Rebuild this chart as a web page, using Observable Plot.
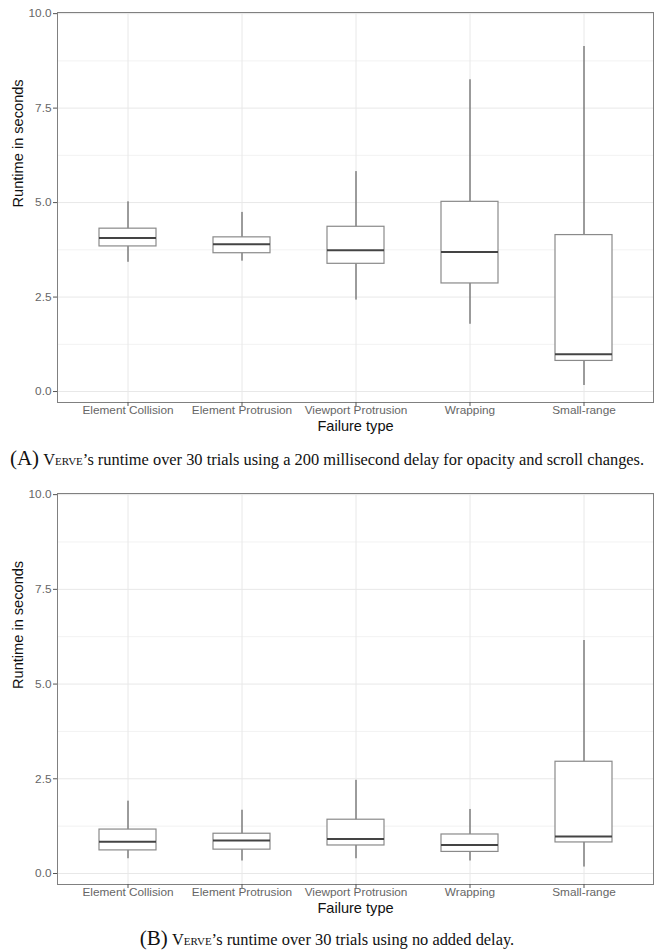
<!DOCTYPE html>
<html>
<head>
<meta charset="utf-8">
<script src="https://cdn.jsdelivr.net/npm/d3@7"></script>
<script src="https://cdn.jsdelivr.net/npm/@observablehq/plot@0.6"></script>
<style>
  html, body { margin: 0; padding: 0; background: #fff; }
  #root { width: 654px; }
  .cap { height: 40px; line-height: 36px; text-align: center; font-family: "Liberation Serif", "Times New Roman", serif; font-size: 16.4px; color: #111; white-space: nowrap; }
  .cap .lab { font-size: 21px; }
  .cap .sc { font-variant: small-caps; }
  svg { display: block; }
</style>
</head>
<body>
<div id="root"></div>
<script>
const categories = ["Element Collision", "Element Protrusion", "Viewport Protrusion", "Wrapping", "Small-range"];
const yTicks = [0, 2.5, 5, 7.5, 10];
const yMinor = [1.25, 3.75, 6.25, 8.75];

// Panel A: 200 ms delay
const lowA  = [3.42, 3.45, 2.42, 1.78, 0.16];
const q1A   = [3.84, 3.66, 3.38, 2.86, 0.81];
const medA  = [4.06, 3.90, 3.74, 3.69, 0.99];
const q3A   = [4.31, 4.08, 4.36, 5.02, 4.14];
const highA = [5.02, 4.74, 5.82, 8.25, 9.13];

// Panel B: no added delay
const lowB  = [0.39, 0.33, 0.39, 0.33, 0.17];
const q1B   = [0.61, 0.63, 0.74, 0.57, 0.82];
const medB  = [0.84, 0.87, 0.91, 0.75, 0.98];
const q3B   = [1.16, 1.05, 1.42, 1.03, 2.95];
const highB = [1.91, 1.67, 2.46, 1.69, 6.15];

function table(low, q1, med, q3, high) {
  return categories.map((c, i) => ({cat: c, low: low[i], q1: q1[i], med: med[i], q3: q3[i], high: high[i]}));
}

function panel(rows, marginTop, marginBottom) {
  return Plot.plot({
    width: 654,
    height: 440,
    marginLeft: 57,
    marginRight: 1,
    marginTop,
    marginBottom,
    style: {fontFamily: "'Liberation Sans', Arial, sans-serif", background: "#fff", overflow: "visible"},
    x: {type: "band", domain: categories, paddingInner: 0.5, paddingOuter: 0.35, axis: null},
    y: {domain: [-0.29, 10.03], axis: null},
    marks: [
      Plot.ruleY(yMinor, {stroke: "#f2f2f2", strokeWidth: 1}),
      Plot.ruleY(yTicks, {stroke: "#e8e8e8", strokeWidth: 1}),
      Plot.ruleX(categories, {stroke: "#e8e8e8", strokeWidth: 1}),
      Plot.ruleX(rows, {x: "cat", y1: "low", y2: "high", stroke: "#444", strokeWidth: 1}),
      Plot.barY(rows, {x: "cat", y1: "q1", y2: "q3", fill: "#fff", stroke: "#8a8a8a", strokeWidth: 1.2}),
      Plot.tickY(rows, {x: "cat", y: "med", stroke: "#444", strokeWidth: 2}),
      Plot.frame({stroke: "#808080", strokeWidth: 1}),
      Plot.axisY({ticks: yTicks, tickFormat: d => d.toFixed(1), tickSize: 4, tickPadding: 2, stroke: "#555", fill: "#666", fontSize: 11.8, label: null}),
      Plot.axisX({tickSize: 4, tickPadding: -0.5, stroke: "#555", fill: "#666", fontSize: 11.8, label: null}),
      Plot.text(["Runtime in seconds"], {frameAnchor: "left", rotate: -90, dx: -39, fontSize: 14.6, fill: "#111"}),
      Plot.text(["Failure type"], {frameAnchor: "bottom", dy: 28, fontSize: 14.6, fill: "#111"})
    ]
  });
}

const root = document.getElementById("root");
root.appendChild(panel(table(lowA, q1A, medA, q3A, highA), 12, 38));
const capA = document.createElement("div");
capA.className = "cap";
capA.innerHTML = '<span class="lab">(A)</span> <span class="sc">Verve</span>’s runtime over 30 trials using a 200 millisecond delay for opacity and scroll changes.';
root.appendChild(capA);
root.appendChild(panel(table(lowB, q1B, medB, q3B, highB), 13, 36));
const capB = document.createElement("div");
capB.className = "cap";
capB.innerHTML = '<span class="lab">(B)</span> <span class="sc">Verve</span>’s runtime over 30 trials using no added delay.';
root.appendChild(capB);
</script>
</body>
</html>
